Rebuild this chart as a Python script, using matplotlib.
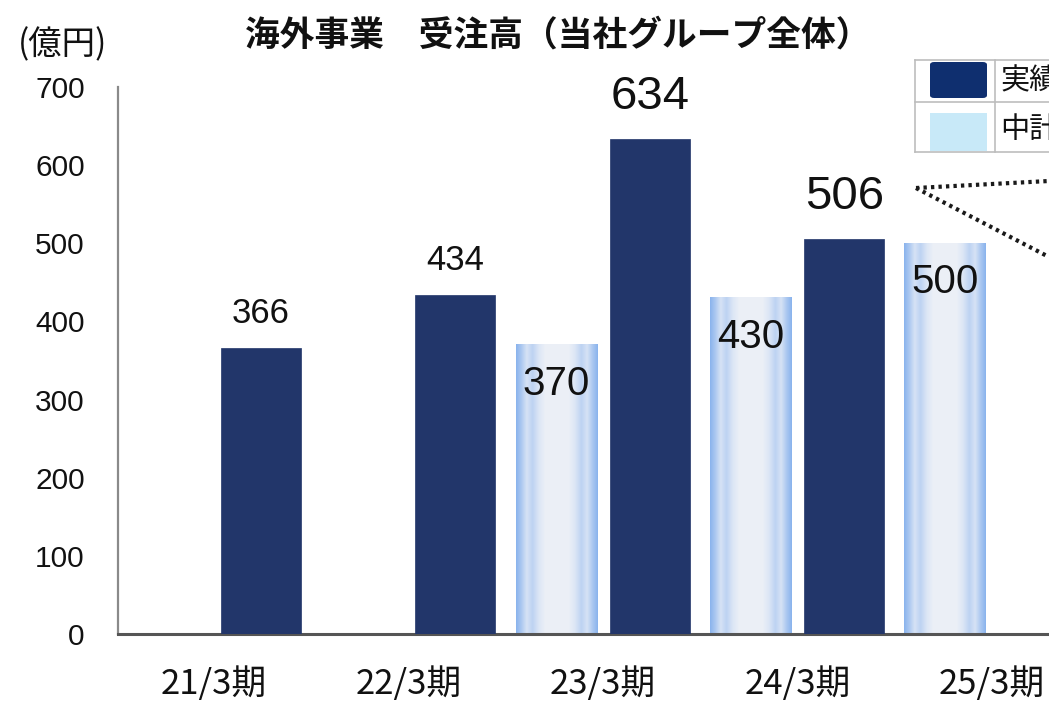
import numpy as np
import matplotlib
matplotlib.use("Agg")
import matplotlib.pyplot as plt
from matplotlib.patches import Rectangle, FancyBboxPatch
from matplotlib.lines import Line2D

plt.rcParams['font.family'] = ['Liberation Sans', 'Noto Sans CJK JP', 'DejaVu Sans']

categories = ["21/3期", "22/3期", "23/3期", "24/3期", "25/3期"]
actual = [366, 434, 634, 506, None]
plan = [None, None, 370, 430, 500]
yticks = [0, 100, 200, 300, 400, 500, 600, 700]
title = "海外事業　受注高（当社グループ全体）"
unit_label = "(億円)"
legend_labels = ["実績", "中計"]

navy = "#22366a"
W, H = 1049, 702
fig = plt.figure(figsize=(W / 100, H / 100), dpi=100)
ax = fig.add_axes([118 / W, (H - 634) / H, 1 - 118 / W, 547 / H])

x = np.arange(len(categories))
off = 0.24
bw_a = 0.41
bw_p = 0.42

# actual bars
xa = [x[i] + off for i in range(len(actual)) if actual[i] is not None]
ya = [v for v in actual if v is not None]
bars_a = ax.bar(xa, ya, width=bw_a, color=navy, edgecolor=navy, linewidth=0.5, zorder=3)

# plan bars with horizontal gradient
xp = [x[i] - off for i in range(len(plan)) if plan[i] is not None]
yp = [v for v in plan if v is not None]
bars_p = ax.bar(xp, yp, width=bw_p, color="none", edgecolor="none", zorder=3)

pos = np.array([0.0, 0.06, 0.13, 0.2, 0.28, 0.36, 0.64, 0.72, 0.8, 0.87, 0.94, 1.0])
wht = np.array([0.2, 0.45, 0.8, 0.6, 0.85, 0.97, 0.97, 0.85, 0.6, 0.8, 0.45, 0.2])
t = np.linspace(0, 1, 200)
w = np.interp(t, pos, wht)
blue = np.array([0.44, 0.64, 0.92])
white = np.array([0.94, 0.95, 0.97])
grad = (blue[None, :] * (1 - w[:, None]) + white[None, :] * w[:, None])[None, :, :]
for b in bars_p:
    ax.imshow(grad, extent=[b.get_x(), b.get_x() + b.get_width(), 0, b.get_height()],
              aspect='auto', zorder=2.5, interpolation='bilinear')

ax.set_xlim(-0.494, 4.293)
ax.set_ylim(0, 700)

# value labels
for b, v in zip(bars_a, ya):
    big = v >= 500
    ax.annotate(str(v), (b.get_x() + b.get_width() / 2, v),
                xytext=(0, 30 if big else 25), textcoords='offset points',
                ha='center', va='center', fontsize=34 if big else 25, color='#111111')
for b, v in zip(bars_p, yp):
    ax.annotate(str(v), (b.get_x() + b.get_width() / 2, v),
                xytext=(0, -28), textcoords='offset points',
                ha='center', va='center', fontsize=29, color='#111111', zorder=5)

# axes styling
for s in ['top', 'right']:
    ax.spines[s].set_visible(False)
ax.spines['left'].set_color('#8a8a8a')
ax.spines['left'].set_linewidth(1.6)
ax.spines['bottom'].set_color('#555555')
ax.spines['bottom'].set_linewidth(2.2)
ax.set_yticks(yticks)
ax.set_yticklabels([str(v) for v in yticks])
ax.set_xticks(x)
ax.set_xticklabels(categories, fontfamily=['Noto Sans CJK JP'])
ax.tick_params(axis='y', length=0, pad=24, labelsize=21.5, labelcolor='#111111')
ax.tick_params(axis='x', length=0, pad=24, labelsize=25, labelcolor='#111111')

fig.text(558 / W, 1 - 35 / H, title, ha='center', va='center', fontsize=25,
         fontweight='bold', fontfamily=['Noto Sans CJK JP'], color='#111111')
fig.text(63 / W, 1 - 45 / H, unit_label, ha='center', va='center', fontsize=24,
         fontfamily=['Noto Sans CJK JP'], color='#111111')

# partial legend (table style) at top right
def fx(px):
    return px / W
def fy(py):
    return 1 - py / H

lc = '#bdbdbd'
for (x0, y0, x1, y1) in [(915, 60, 1060, 60), (915, 102, 1060, 102), (915, 152, 1060, 152),
                         (915, 60, 915, 152), (995, 60, 995, 152)]:
    fig.add_artist(Line2D([fx(x0), fx(x1)], [fy(y0), fy(y1)], color=lc, lw=1.2))
fig.add_artist(FancyBboxPatch((fx(930), fy(98)), fx(57), 36 / H,
                              boxstyle="round,pad=0,rounding_size=0.004",
                              facecolor="#0f2f6f", edgecolor='none'))
fig.add_artist(Rectangle((fx(930), fy(151)), fx(57), 38 / H,
                         facecolor="#c8e9f8", edgecolor='none'))
fig.text(fx(1000), fy(81), legend_labels[0], ha='left', va='center', fontsize=21,
         fontfamily=['Noto Sans CJK JP'], color='#111111')
fig.text(fx(1000), fy(130), legend_labels[1], ha='left', va='center', fontsize=21,
         fontfamily=['Noto Sans CJK JP'], color='#111111')

# dotted leader lines from the 506 label
for (x0, y0, x1, y1) in [(916, 188, 1049, 181), (916, 188, 1049, 257)]:
    fig.add_artist(Line2D([fx(x0), fx(x1)], [fy(y0), fy(y1)], color='#1a1a1a',
                          lw=3, linestyle=(0, (0.8, 1.0))))

fig.savefig("out.png", dpi=100, facecolor='white')
